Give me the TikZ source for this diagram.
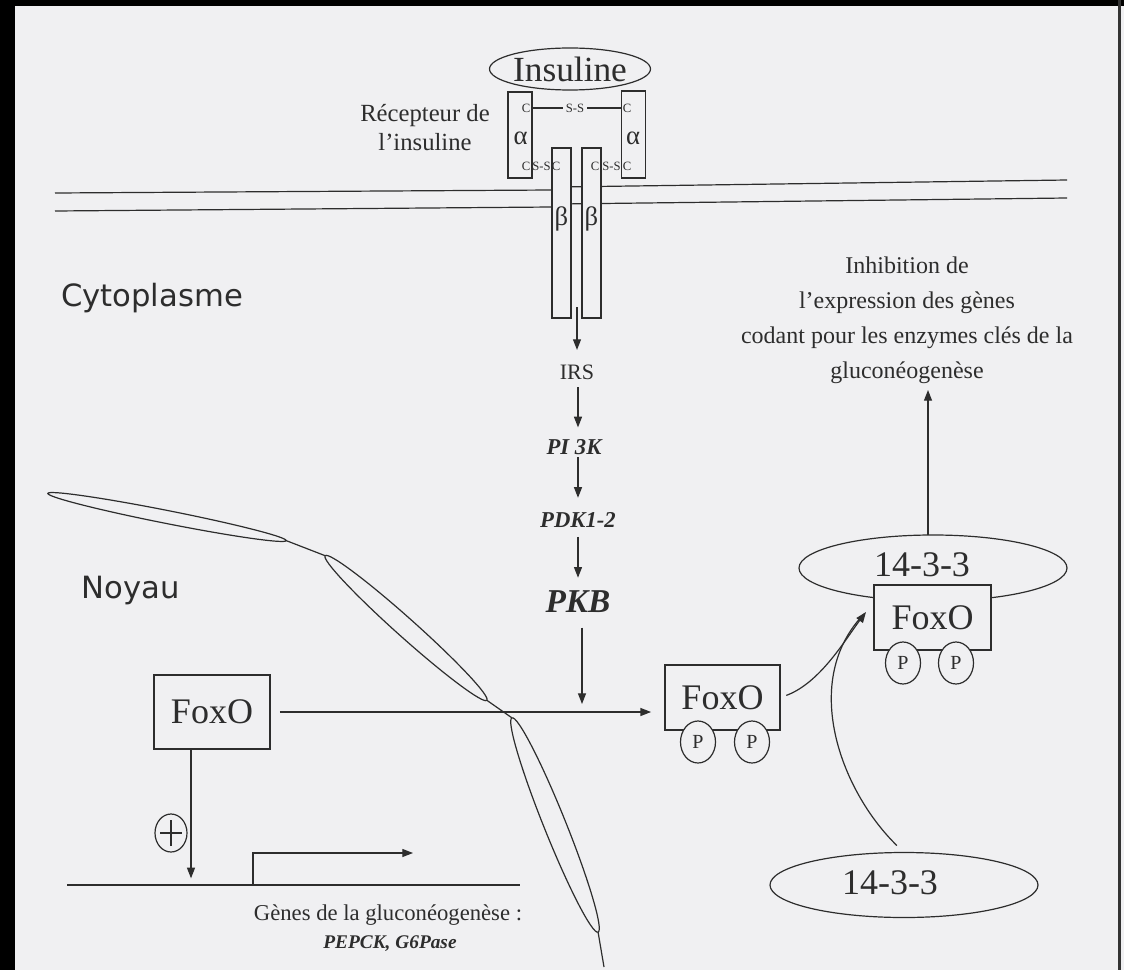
\documentclass[tikz,border=0pt]{standalone}
\usepackage{fontspec}
\setmainfont{Liberation Serif}
\newfontfamily\sansf{DejaVu Sans}
\usetikzlibrary{shapes.geometric,arrows.meta}
\definecolor{bgc}{RGB}{240,240,242}
\definecolor{ink}{RGB}{45,45,45}
\newcommand{\pxu}{0.75pt}
\tikzset{
  ln/.style={draw=ink, line width=0.9pt},
  arr/.style={ln, -{Triangle[length=8pt,width=6pt]}},
  box/.style={ln, fill=bgc, rectangle, inner sep=0pt, text=ink},
  ell/.style={ln, ellipse, inner sep=0pt, outer sep=0pt, text=ink},
  txt/.style={text=ink, inner sep=0pt, outer sep=0pt},
  small/.style={txt, font=\fontsize{9.5}{10}\selectfont},
  greek/.style={txt, font=\fontsize{20}{22}\selectfont},
  kin/.style={txt, font=\bfseries\itshape\fontsize{17}{18}\selectfont},
  foxo/.style={box, font=\fontsize{27}{30}\selectfont},
  pcirc/.style={ell, fill=bgc, minimum width=35*\pxu, minimum height=42*\pxu, font=\fontsize{15}{16}\selectfont},
  big/.style={txt, font=\fontsize{27}{30}\selectfont},
  sanslbl/.style={txt, font=\sansf\fontsize{23}{26}\selectfont},
}
\begin{document}
\begin{tikzpicture}[x=0.75pt, y=-0.75pt]
\useasboundingbox (0,0) rectangle (1124,970);
\fill[bgc] (0,0) rectangle (1124,970);
\fill[black] (0,0) rectangle (15,970);
\fill[black] (0,0) rectangle (1124,6);
\fill[black!80] (1118,0) rectangle (1121,970);

% membrane
\draw[ln] (55,193) -- (552,190);
\draw[ln] (55,211) -- (552,207);
\draw[ln] (560,187) -- (1067,180);
\draw[ln] (560,204) -- (1067,198);

% insulin and receptor
\node[ell, minimum width=150*\pxu, minimum height=42*\pxu, font=\fontsize{26.5}{29}\selectfont] (ins) at (570,69) {Insuline};
\node[txt, align=center, font=\fontsize{18.5}{21.75}\selectfont] (rec) at (425,128) {Récepteur de\\l’insuline};
\node[box, minimum width=24*\pxu, minimum height=86*\pxu] (aL) at (520,135) {};
\node[box, minimum width=24*\pxu, minimum height=87*\pxu] (aR) at (633.5,134.5) {};
\node[box, minimum width=19*\pxu, minimum height=170*\pxu] (bL) at (561.5,233) {};
\node[box, minimum width=19*\pxu, minimum height=170*\pxu] (bR) at (591.5,233) {};
\node[greek] (alL) at (520.5,138) {α};
\node[greek] (alR) at (633,138) {α};
\node[greek] (beL) at (561.5,219) {β};
\node[greek] (beR) at (591.5,219) {β};
\coordinate (ss) at (575,108);
\draw[ln] (ss -| aL.east) -- (ss -| aR.west);
\node[small, fill=bgc, inner xsep=2pt] (ssT) at (ss) {S-S};
\node[small] (c1) at (526,108) {C};
\node[small] (c2) at (627,108) {C};
\node[small] (c3) at (526,166) {C};
\node[small] (ss2) at (541.5,166) {S-S};
\node[small] (c4) at (556,166) {C};
\node[small] (c5) at (595,166) {C};
\node[small] (ss3) at (611.5,166) {S-S};
\node[small] (c6) at (627,166) {C};

% compartments
\node[sanslbl] (cyto) at (152,298) {Cytoplasme};
\node[sanslbl] (noyau) at (131,591) {Noyau};

% cascade
\coordinate (axis) at (578,0);
\coordinate (rc) at (577,307);
\node[txt, font=\fontsize{16.5}{18}\selectfont] (irs) at (577,372) {IRS};
\node[kin] (pi3k) at (574,447) {PI 3K};
\node[kin] (pdk) at (578,520) {PDK1-2};
\node[txt, font=\bfseries\itshape\fontsize{25}{27}\selectfont] (pkb) at (578,602) {PKB};
\draw[arr, shorten >=11pt] (rc) -- (rc |- irs.north);
\draw[arr, shorten <=6pt, shorten >=9pt] (irs.south -| axis) -- (pi3k.north -| axis);
\draw[arr, shorten <=2pt, shorten >=11pt] (pi3k.south -| axis) -- (pdk.north -| axis);
\draw[arr, shorten <=7pt, shorten >=10pt] (pdk.south -| axis) -- (pkb.north -| axis);
\coordinate (hl) at (582,712);
\draw[arr, shorten <=11pt, shorten >=6pt] (pkb.south -| hl) -- (hl);

% nucleus envelope
\node[ell, minimum width=243*\pxu, minimum height=13*\pxu, rotate=-11.2] (n1) at (167,517) {};
\node[ell, minimum width=217*\pxu, minimum height=19*\pxu, rotate=-41.8] (n2) at (406,628) {};
\node[ell, minimum width=231*\pxu, minimum height=22*\pxu, rotate=-68.1] (n3) at (555,825) {};
\coordinate (nEnd) at (604,967);
\draw[ln] (n1.east) -- (n2.west);
\draw[ln] (n2.east) -- (n3.west);
\draw[ln] (n3.east) -- (nEnd);

% FoxO boxes
\node[foxo, minimum width=116*\pxu, minimum height=74*\pxu] (foxoL) at (212,712) {FoxO};
\node[foxo, minimum width=115*\pxu, minimum height=65*\pxu] (foxoM) at (722.5,697.5) {FoxO};
\node[ell, minimum width=268*\pxu, minimum height=66*\pxu] (e1) at (933,568) {};
\node[big] (t1) at (922,565) {14-3-3};
\node[foxo, minimum width=117*\pxu, minimum height=65*\pxu] (foxoR) at (932.5,617.5) {FoxO};
\node[pcirc] (pM1) at (698,742) {P};
\node[pcirc] (pM2) at (752,742) {P};
\node[pcirc] (pR1) at (903,663) {P};
\node[pcirc] (pR2) at (956,663) {P};
\draw[arr, shorten <=7pt, shorten >=10pt] (foxoL.east) -- (foxoL.east -| foxoM.west);

% inhibition
\node[txt, align=center, font=\fontsize{18}{26.25}\selectfont] (inhib) at (907,320) {Inhibition de\\l’expression des gènes\\codant pour les enzymes clés de la\\gluconéogenèse};
\coordinate (itip) at (928,390);
\draw[arr] (e1.north -| itip) -- (itip);

% lower 14-3-3 and curves
\node[ell, minimum width=268*\pxu, minimum height=65*\pxu] (e2) at (904,885) {};
\node[big] (t2) at (890,883) {14-3-3};
\coordinate (tipR) at (866,612);
\draw[ln, shorten <=7.5pt, shorten >=2pt] (e2.north) .. controls (840,790) and (800,680) .. (tipR);
\draw[arr, shorten <=4.5pt] (foxoM.east) .. controls (820,683) and (845,640) .. (tipR);

% gene
\coordinate (gA) at (67,885);
\coordinate (gB) at (520,885);
\draw[ln] (gA) -- (gB);
\draw[arr, shorten >=5pt] ([xshift=-21*\pxu]foxoL.south) -- ([xshift=-21*\pxu]foxoL.south |- gA);
\node[ell, minimum width=32*\pxu, minimum height=38*\pxu] (plus) at (171,833) {};
\draw[ln] ([xshift=-11*\pxu]plus.center) -- ([xshift=11*\pxu]plus.center);
\draw[ln] ([yshift=-13*\pxu]plus.center) -- ([yshift=13*\pxu]plus.center);
\coordinate (pr) at (253,885);
\coordinate (prc) at (253,853);
\coordinate (pre) at (413,853);
\draw[arr] (pr) -- (prc) -- (pre);
\node[txt, font=\fontsize{17}{20}\selectfont] (gen1) at (388,915) {Gènes de la gluconéogenèse :};
\node[txt, font=\bfseries\itshape\fontsize{14.5}{17}\selectfont] (gen2) at (390,944) {PEPCK, G6Pase};
\end{tikzpicture}
\end{document}
